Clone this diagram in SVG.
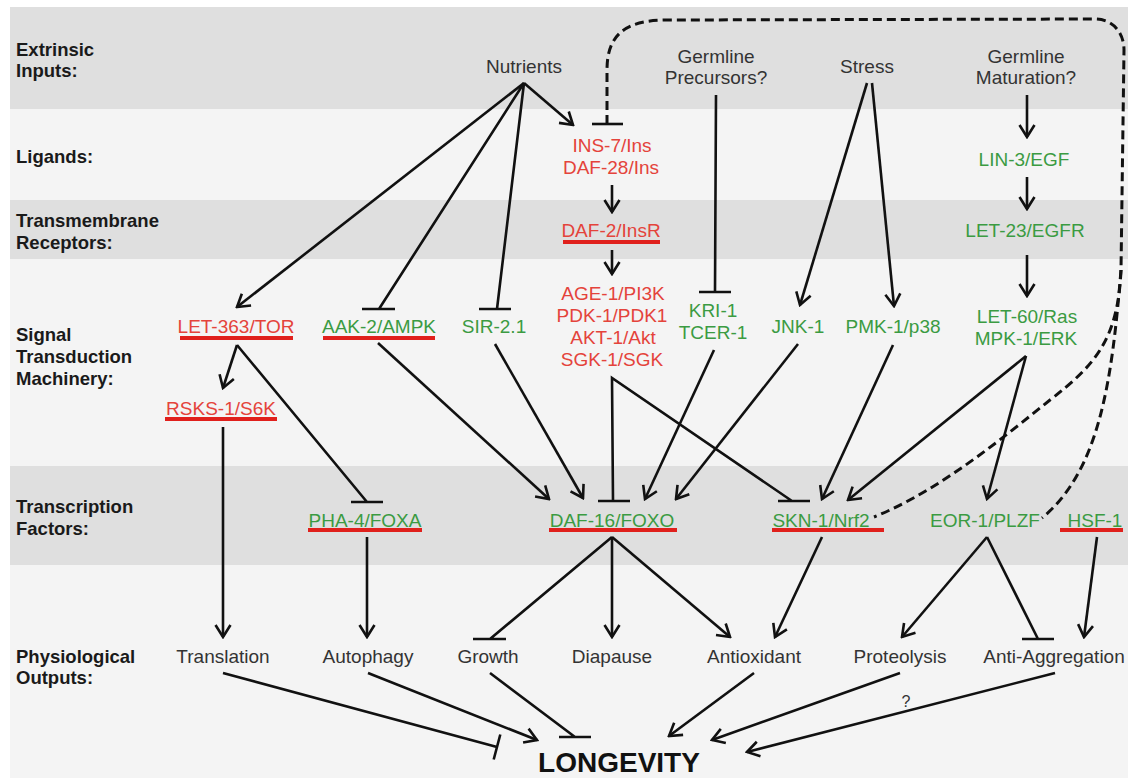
<svg xmlns="http://www.w3.org/2000/svg" width="1128" height="778" viewBox="0 0 1128 778">
<defs>
<style>
.lbl{font-family:"Liberation Sans",Arial,sans-serif;font-size:18.5px;font-weight:bold;fill:#1a1a1a}
.t{font-family:"Liberation Sans",Arial,sans-serif;font-size:19px;text-anchor:middle}
.k{fill:#333}
.r{fill:#e4433b}
.g{fill:#3b9b42}
.ul{stroke:#e0201c;stroke-width:4}
.c{stroke:#111;stroke-width:2.6;fill:none}
.a{marker-end:url(#arr)}
.d{stroke:#111;stroke-width:3;fill:none;stroke-dasharray:9 5}
.dark{fill:#dfdfdf}
.light{fill:#f4f4f4}
</style>
<marker id="arr" viewBox="-14 -10 16 20" refX="0" refY="0" markerWidth="16" markerHeight="20" orient="auto" markerUnits="userSpaceOnUse">
<path d="M-12,-7.5 L0,0 L-12,7.5" fill="none" stroke="#111" stroke-width="2.6"/>
</marker>
</defs>
<rect width="1128" height="778" fill="#ffffff"/>
<g id="bands">
<rect class="dark" x="10" y="7" width="1118" height="102"/>
<rect class="light" x="10" y="109" width="1118" height="91"/>
<rect class="dark" x="10" y="200" width="1118" height="59"/>
<rect class="light" x="10" y="259" width="1118" height="207"/>
<rect class="dark" x="10" y="466" width="1118" height="99"/>
<rect class="light" x="10" y="565" width="1118" height="213"/>
</g>
<g id="row-labels">
<text class="lbl" x="16" y="56">Extrinsic</text>
<text class="lbl" x="16" y="77">Inputs:</text>
<text class="lbl" x="16" y="163">Ligands:</text>
<text class="lbl" x="16" y="227">Transmembrane</text>
<text class="lbl" x="16" y="249">Receptors:</text>
<text class="lbl" x="16" y="341">Signal</text>
<text class="lbl" x="16" y="363">Transduction</text>
<text class="lbl" x="16" y="385">Machinery:</text>
<text class="lbl" x="16" y="513">Transcription</text>
<text class="lbl" x="16" y="535">Factors:</text>
<text class="lbl" x="16" y="663">Physiological</text>
<text class="lbl" x="16" y="684">Outputs:</text>
</g>
<g id="connectors">
<path class="c a" d="M524,83 L573,125"/>
<path class="c a" d="M524,83 L237,307"/>
<path class="c" d="M524,83 L379,309 M362,309 L395,309"/>
<path class="c" d="M524,83 L497,309 M479,309 L511,309"/>
<path class="c" d="M716,95 L715,292 M699,292 L731,292"/>
<path class="c a" d="M612,185 L612,212"/>
<path class="c a" d="M612,250 L612,274"/>
<path class="c a" d="M867,83 L800,305"/>
<path class="c a" d="M872,83 L894,306"/>
<path class="c a" d="M1027,95 L1027,137"/>
<path class="c a" d="M1027,177 L1027,209"/>
<path class="c a" d="M1027,255 L1027,296"/>
<path class="c a" d="M237,345 L223,388"/>
<path class="c" d="M237,345 L367,502 M351,502 L383,502"/>
<path class="c a" d="M378,343 L549,499"/>
<path class="c a" d="M495,344 L583,498"/>
<path class="c" d="M613,501 L612,378 L792,501 M598,501 L630,501 M778,501 L810,501"/>
<path class="c a" d="M714,350 L645,499"/>
<path class="c a" d="M798,344 L676,499"/>
<path class="c a" d="M893,345 L822,499"/>
<path class="c a" d="M1026,356 L848,500"/>
<path class="c a" d="M1026,356 L987,499"/>
<path class="c a" d="M223,427 L223,637"/>
<path class="c a" d="M367,537 L367,637"/>
<path class="c" d="M612,537 L490,639 M473,639 L506,639"/>
<path class="c a" d="M612,537 L612,637"/>
<path class="c a" d="M612,537 L730,637"/>
<path class="c a" d="M822,537 L775,637"/>
<path class="c a" d="M987,537 L902,637"/>
<path class="c" d="M987,537 L1038,639 M1022,639 L1054,639"/>
<path class="c a" d="M1097,537 L1084,637"/>
<path class="c" d="M223,673 L497,747 M500.3,734.5 L493.7,759.5"/>
<path class="c a" d="M368,673 L537,740"/>
<path class="c" d="M490,673 L575,737 M559,737 L591,737"/>
<path class="c a" d="M754,673 L669,736"/>
<path class="c a" d="M900,673 L712,740"/>
<path class="c a" d="M1055,673 L747,752"/>
<path class="d" d="M607,124 L607,70 C607,35 625,20 667,20 L1095,19 C1112,19 1124,32 1124,50 L1121,270"/>
<path class="c" d="M592,124 L623,124"/>
<path class="d" d="M1121,270 C1118,340 1095,365 1050,400 C1000,440 940,490 874,517"/>
<path class="d" d="M1121,270 C1112,380 1100,470 1042,518"/>
<text x="906" y="707" font-family="Liberation Sans, Arial, sans-serif" font-size="16" fill="#333" text-anchor="middle">?</text>
</g>
<g id="n-nutrients"><text class="t k" x="524" y="73">Nutrients</text></g>
<g id="n-germline-precursors"><text class="t k" x="716" y="63">Germline</text><text class="t k" x="716" y="84">Precursors?</text></g>
<g id="n-stress"><text class="t k" x="867" y="73">Stress</text></g>
<g id="n-germline-maturation"><text class="t k" x="1026" y="63">Germline</text><text class="t k" x="1026" y="84">Maturation?</text></g>
<g id="n-ins"><text class="t r" x="612" y="152">INS-7/Ins</text><text class="t r" x="611" y="174">DAF-28/Ins</text></g>
<g id="n-daf2"><text class="t r" x="611" y="237">DAF-2/InsR</text><line class="ul" x1="563" y1="242" x2="660" y2="242"/></g>
<g id="n-lin3"><text class="t g" x="1024" y="166">LIN-3/EGF</text></g>
<g id="n-let23"><text class="t g" x="1025" y="237">LET-23/EGFR</text></g>
<g id="n-tor"><text class="t r" x="236" y="333">LET-363/TOR</text><line class="ul" x1="180" y1="338" x2="293" y2="338"/></g>
<g id="n-aak2"><text class="t g" x="379" y="333">AAK-2/AMPK</text><line class="ul" x1="323" y1="338" x2="435" y2="338"/></g>
<g id="n-sir"><text class="t g" x="494" y="333">SIR-2.1</text></g>
<g id="n-age1"><text class="t r" x="613" y="300">AGE-1/PI3K</text><text class="t r" x="612" y="322">PDK-1/PDK1</text><text class="t r" x="613" y="344">AKT-1/Akt</text><text class="t r" x="612" y="366">SGK-1/SGK</text></g>
<g id="n-kri1"><text class="t g" x="713" y="317">KRI-1</text><text class="t g" x="713" y="339">TCER-1</text></g>
<g id="n-jnk1"><text class="t g" x="798" y="333">JNK-1</text></g>
<g id="n-pmk1"><text class="t g" x="893" y="333">PMK-1/p38</text></g>
<g id="n-let60"><text class="t g" x="1027" y="323">LET-60/Ras</text><text class="t g" x="1026" y="345">MPK-1/ERK</text></g>
<g id="n-rsks1"><text class="t r" x="221" y="415">RSKS-1/S6K</text><line class="ul" x1="165" y1="419" x2="277" y2="419"/></g>
<g id="n-pha4"><text class="t g" x="365" y="527">PHA-4/FOXA</text><line class="ul" x1="308" y1="530" x2="422" y2="530"/></g>
<g id="n-daf16"><text class="t g" x="612" y="527">DAF-16/FOXO</text><line class="ul" x1="549" y1="530" x2="677" y2="530"/></g>
<g id="n-skn1"><text class="t g" x="821" y="527">SKN-1/Nrf2</text><line class="ul" x1="772" y1="530" x2="884" y2="530"/></g>
<g id="n-eor1"><text class="t g" x="985" y="527">EOR-1/PLZF</text></g>
<g id="n-hsf1"><text class="t g" x="1095" y="527">HSF-1</text><line class="ul" x1="1060" y1="530" x2="1123" y2="530"/></g>
<g id="n-translation"><text class="t k" x="223" y="663">Translation</text></g>
<g id="n-autophagy"><text class="t k" x="368" y="663">Autophagy</text></g>
<g id="n-growth"><text class="t k" x="488" y="663">Growth</text></g>
<g id="n-diapause"><text class="t k" x="612" y="663">Diapause</text></g>
<g id="n-antioxidant"><text class="t k" x="754" y="663">Antioxidant</text></g>
<g id="n-proteolysis"><text class="t k" x="900" y="663">Proteolysis</text></g>
<g id="n-antiagg"><text class="t k" x="1054" y="663">Anti-Aggregation</text></g>
<g id="n-longevity"><text x="619" y="772" font-family="Liberation Sans, Arial, sans-serif" font-size="28" font-weight="bold" fill="#111" text-anchor="middle">LONGEVITY</text></g>
</svg>
